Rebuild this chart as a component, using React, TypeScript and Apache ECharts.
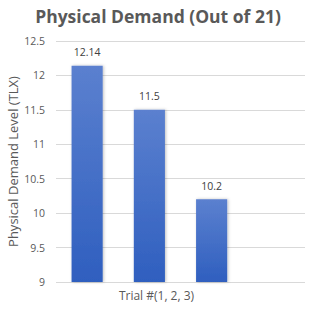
import React, { useEffect, useRef } from "react";
import * as echarts from "echarts";

const categories = ["1", "2", "3", ""];
const values: (number | null)[] = [12.14, 11.5, 10.2, null];
const title = "Physical Demand (Out of 21)";
const xName = "Trial #(1, 2, 3)";
const yName = "Physical Demand Level (TLX)";

export default function App() {
  const ref = useRef<HTMLDivElement>(null);
  useEffect(() => {
    const chart = echarts.init(ref.current!, null, { renderer: "svg" });
    chart.setOption({
      animation: false,
      backgroundColor: "#ffffff",
      textStyle: { fontFamily: "Open Sans" },
      title: {
        text: title,
        left: 153,
        textAlign: "center",
        top: 2,
        textStyle: { fontSize: 17.5, fontWeight: "bold", color: "#595959", fontFamily: "Open Sans" },
      },
      grid: { left: 56, right: 7, top: 41, bottom: 29, outerBoundsMode: "none", containLabel: false },
      xAxis: {
        type: "category",
        data: categories,
        name: xName,
        nameLocation: "middle",
        nameGap: 7,
        nameMoveOverlap: false,
        nameTextStyle: { color: "#595959", fontSize: 12, padding: [0, 48, 0, 0] },
        axisLine: { show: false },
        axisTick: { show: false },
        axisLabel: { show: false },
      },
      yAxis: {
        type: "value",
        min: 9,
        max: 12.5,
        interval: 0.5,
        name: yName,
        nameLocation: "middle",
        nameGap: 37,
        nameMoveOverlap: false,
        nameTextStyle: { color: "#595959", fontSize: 13 },
        axisLabel: { color: "#595959", fontSize: 10.5, margin: 11 },
        splitLine: { lineStyle: { color: "#d9d9d9" } },
        axisLine: { show: false },
        axisTick: { show: false },
      },
      series: [
        {
          type: "bar",
          data: values,
          barWidth: "50%",
          itemStyle: {
            color: new echarts.graphic.LinearGradient(0, 0, 0, 1, [
              { offset: 0, color: "#5b80cf" },
              { offset: 1, color: "#2f5fbf" },
            ]),
            shadowColor: "rgba(0,0,0,0.25)",
            shadowBlur: 3,
            shadowOffsetX: 1,
          },
          label: {
            show: true,
            position: "top",
            distance: 8,
            color: "#404040",
            fontSize: 10.5,
          },
        },
      ],
    });
    return () => chart.dispose();
  }, []);
  return <div ref={ref} style={{ width: 312, height: 311, position: "absolute", left: 0, top: 0 }} />;
}
